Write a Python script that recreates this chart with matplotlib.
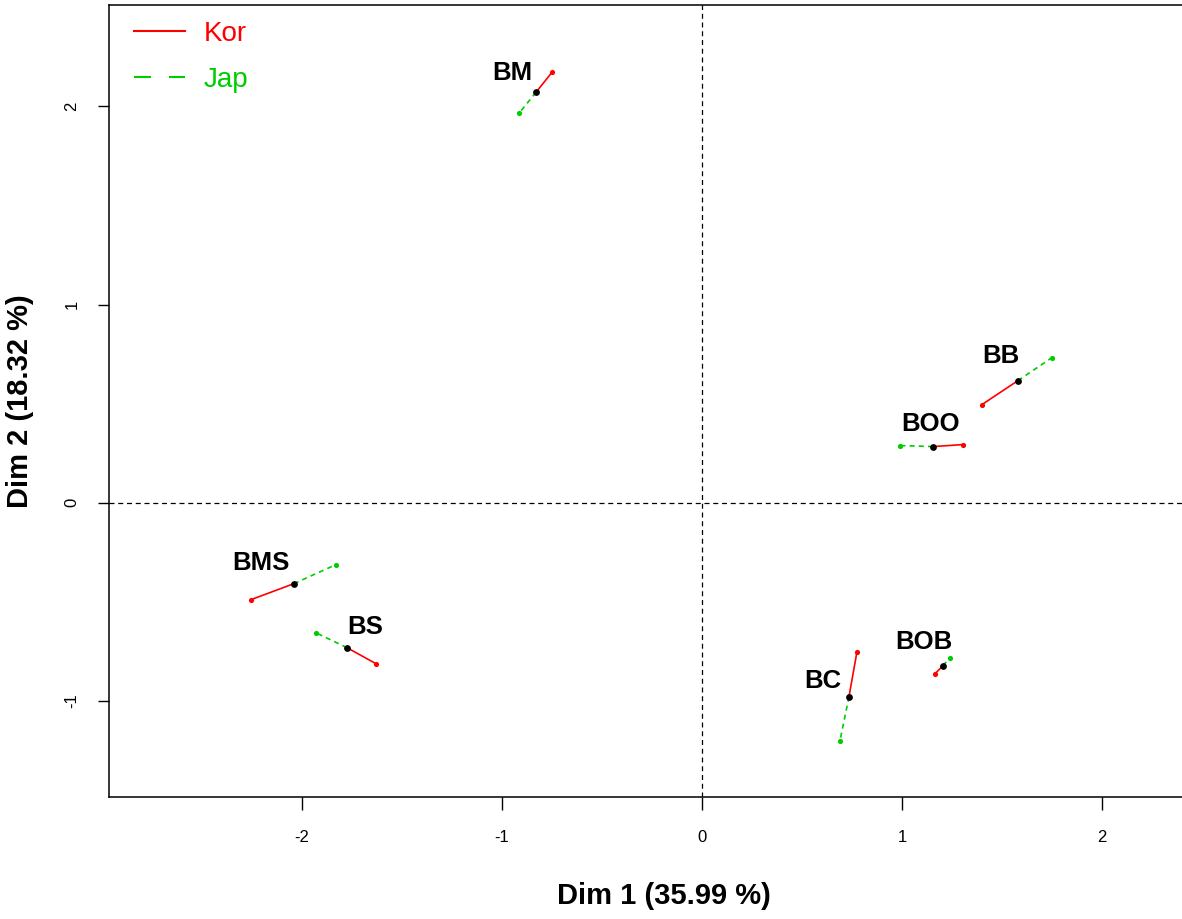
import matplotlib
matplotlib.use("Agg")
import matplotlib.pyplot as plt
from matplotlib.lines import Line2D

# ---- data ----
products = ["BM", "BB", "BOO", "BMS", "BS", "BC", "BOB"]
center_x = [-0.83, 1.58, 1.155, -2.04, -1.775, 0.735, 1.205]
center_y = [2.071, 0.616, 0.283, -0.409, -0.732, -0.980, -0.823]
kor_x = [-0.75, 1.40, 1.305, -2.255, -1.63, 0.775, 1.165]
kor_y = [2.172, 0.495, 0.293, -0.490, -0.813, -0.753, -0.864]
jap_x = [-0.915, 1.75, 0.99, -1.83, -1.93, 0.69, 1.24]
jap_y = [1.965, 0.732, 0.288, -0.313, -0.657, -1.202, -0.783]
# label offsets (points) relative to the centre point
label_dx = [-17, -12, -1.5, -24, 13, -19, -14]
label_dy = [14, 18, 16.5, 15, 15, 11.5, 17]
xticks = [-2, -1, 0, 1, 2]
yticks = [-1, 0, 1, 2]
group_names = ["Kor", "Jap"]
xlabel = "Dim 1 (35.99 %)"
ylabel = "Dim 2 (18.32 %)"

RED = "#FF0000"
GREEN = "#00CD00"

fig = plt.figure(figsize=(11.82, 9.19), dpi=100)
ax = fig.add_axes([108.5 / 1182, 1 - 797 / 919, (1220 - 108.5) / 1182, (797 - 5) / 919])
ax.set_xlim(-2.967, 2.59)
ax.set_ylim(-1.486, 2.512)

ax.axhline(0, color="black", lw=0.9, linestyle=(0, (4, 3)), zorder=1)
ax.axvline(0, color="black", lw=0.9, linestyle=(0, (4, 3)), zorder=1)

for i, name in enumerate(products):
    ax.plot([center_x[i], kor_x[i]], [center_y[i], kor_y[i]], color=RED, lw=1.2, zorder=2)
    ax.plot([center_x[i], jap_x[i]], [center_y[i], jap_y[i]], color=GREEN, lw=1.2,
            linestyle=(0, (3, 2.5)), zorder=2)
ax.scatter(kor_x, kor_y, s=14, color=RED, zorder=3, linewidths=0)
ax.scatter(jap_x, jap_y, s=14, color=GREEN, zorder=3, linewidths=0)
ax.scatter(center_x, center_y, s=24, color="black", zorder=4, linewidths=0)

for i, name in enumerate(products):
    ax.annotate(name, (center_x[i], center_y[i]), xytext=(label_dx[i], label_dy[i]),
                textcoords="offset points", ha="center", va="center",
                fontsize=18.5, fontweight="bold", family=["Liberation Sans", "DejaVu Sans"])

handles = [Line2D([], [], color=RED, lw=1.5),
           Line2D([], [], color=GREEN, lw=1.5, linestyle=(0, (8.2, 8.6)))]
leg = ax.legend(handles, group_names, loc="upper left", bbox_to_anchor=(0.0225, 0.98),
                frameon=False, handlelength=1.85, handletextpad=0.68,
                labelspacing=0.72, borderpad=0, borderaxespad=0,
                prop={"family": "Liberation Sans", "size": 20})
for t, c in zip(leg.get_texts(), [RED, GREEN]):
    t.set_color(c)

ax.set_xticks(xticks)
ax.set_yticks(yticks)
ax.set_xticklabels([str(v) for v in xticks], family="Liberation Sans", fontsize=12)
ax.set_yticklabels([str(v) for v in yticks], family="Liberation Sans", fontsize=12,
                   rotation=90, va="center")
ax.tick_params(axis="x", length=9.4, width=1, pad=14)
ax.tick_params(axis="y", length=8, width=1, pad=13)
for s in ax.spines.values():
    s.set_linewidth(1.1)

ax.set_xlabel(xlabel, fontsize=21, fontweight="bold", family="Liberation Sans", labelpad=27)
ax.set_ylabel(ylabel, fontsize=21, fontweight="bold", family="Liberation Sans", labelpad=22)

fig.savefig("out.png", dpi=100)
